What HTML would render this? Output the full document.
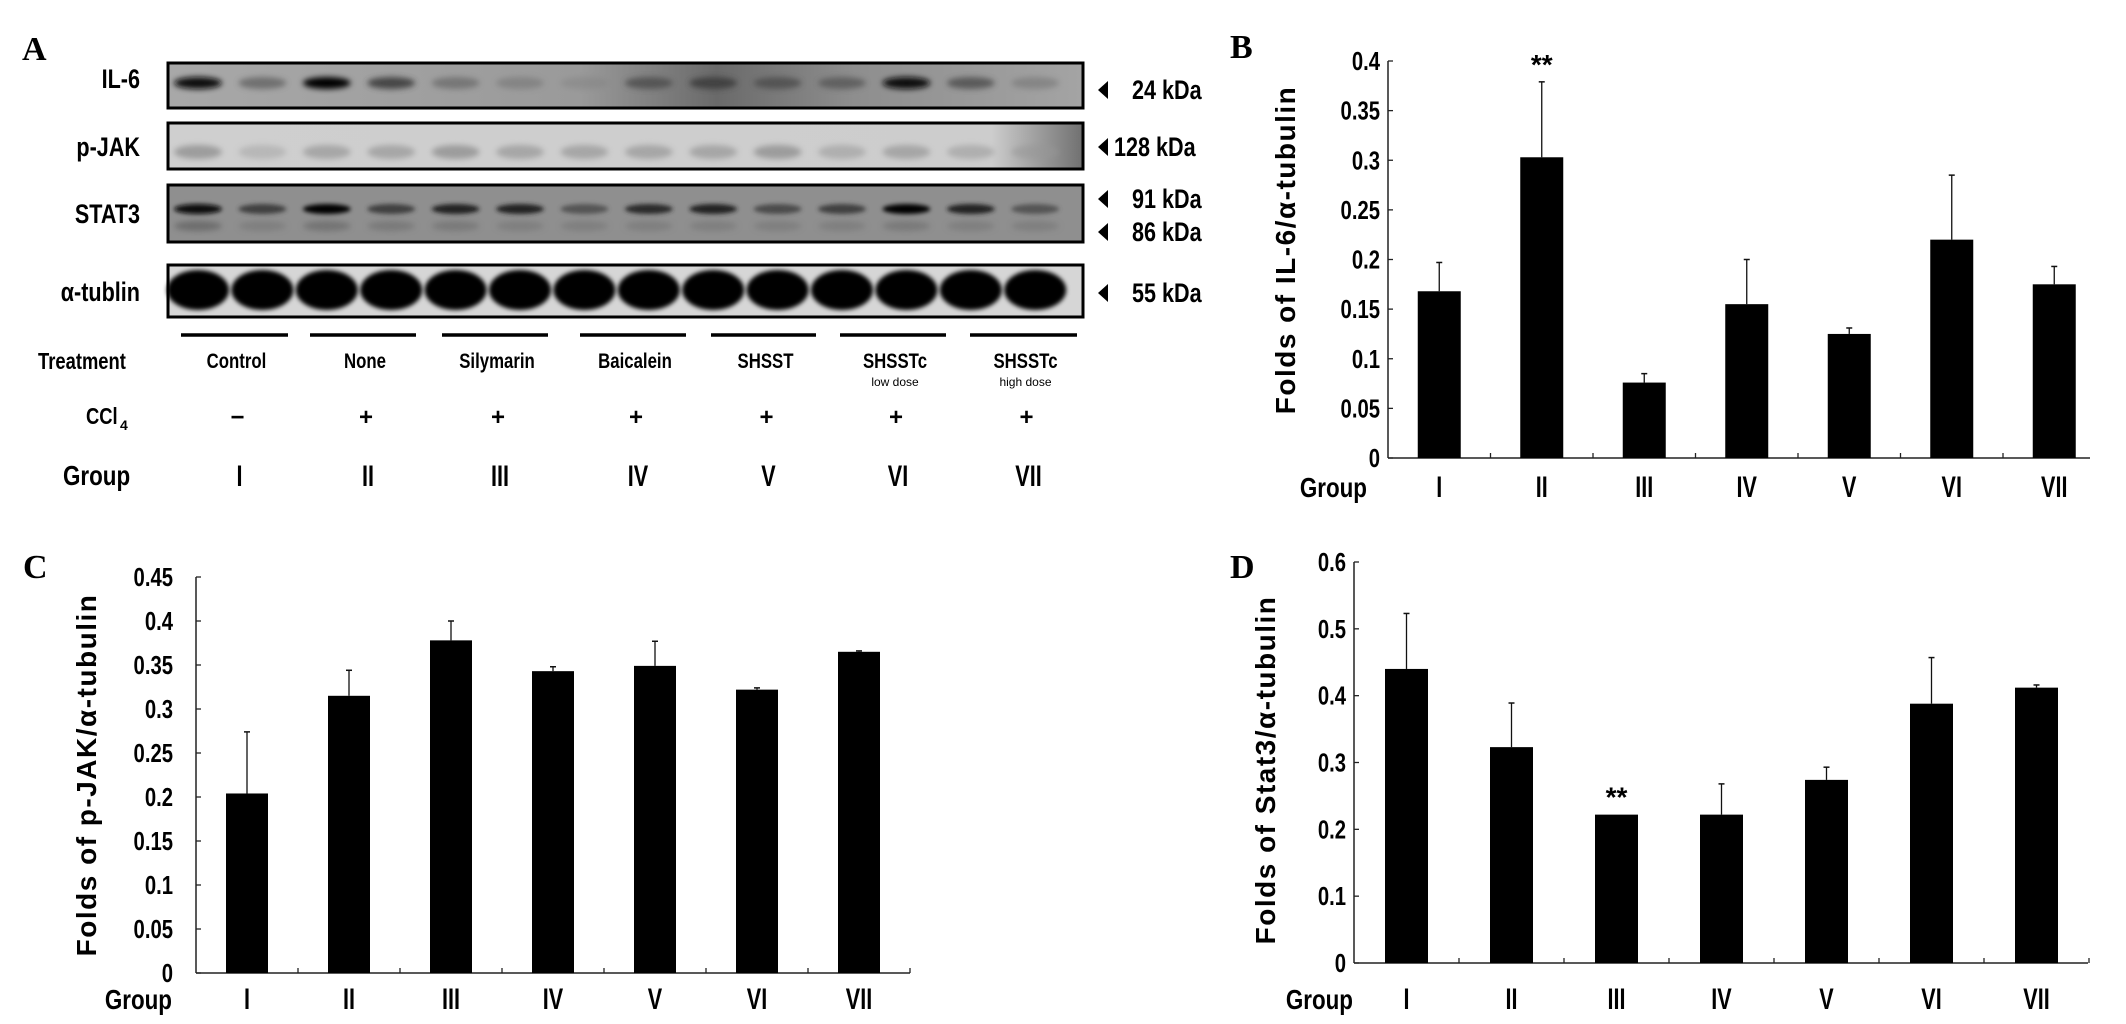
<!DOCTYPE html>
<html><head><meta charset="utf-8"><style>
html,body{margin:0;padding:0;background:#fff;}
svg{display:block;}
text{font-family:"Liberation Sans",sans-serif;font-weight:bold;fill:#000;}
.serif{font-family:"Liberation Serif",serif;}
</style></head><body>
<svg id="fig" width="2126" height="1024" viewBox="0 0 2126 1024" xmlns="http://www.w3.org/2000/svg">
<defs>
<filter id="blur3" x="-50%" y="-50%" width="200%" height="200%"><feGaussianBlur stdDeviation="3"/></filter>
<filter id="blur2" x="-50%" y="-50%" width="200%" height="200%"><feGaussianBlur stdDeviation="2"/></filter>
<linearGradient id="il6bg" x1="0" x2="1" y1="0" y2="0">
<stop offset="0" stop-color="#a8a8a8"/><stop offset="0.45" stop-color="#9a9a9a"/><stop offset="0.6" stop-color="#6a6a6a"/><stop offset="0.75" stop-color="#8e8e8e"/><stop offset="1" stop-color="#a4a4a4"/></linearGradient>
<linearGradient id="jakbg" x1="0" x2="1" y1="0" y2="0">
<stop offset="0" stop-color="#cfcfcf"/><stop offset="0.9" stop-color="#cdcdcd"/><stop offset="1" stop-color="#707070"/></linearGradient>
</defs>
<g id="panel-a"></g>
<g id="panel-b"></g>
<g id="panel-c"></g>
<g id="panel-d"></g>
</svg>
<script>
// ---- Chart data ----
const groupLabels = ["I","II","III","IV","V","VI","VII"];
const bValues = [0.168,0.303,0.076,0.155,0.125,0.220,0.175];
const bErrors = [0.029,0.076,0.009,0.045,0.006,0.065,0.018];
const bTicks = [0,0.05,0.1,0.15,0.2,0.25,0.3,0.35,0.4];
const bTickLabels = ["0","0.05","0.1","0.15","0.2","0.25","0.3","0.35","0.4"];
const bStars = [1];
const cValues = [0.204,0.315,0.378,0.343,0.349,0.322,0.365];
const cErrors = [0.070,0.029,0.022,0.005,0.028,0.002,0.001];
const cTicks = [0,0.05,0.1,0.15,0.2,0.25,0.3,0.35,0.4,0.45];
const cTickLabels = ["0","0.05","0.1","0.15","0.2","0.25","0.3","0.35","0.4","0.45"];
const cStars = [];
const dValues = [0.440,0.323,0.222,0.222,0.274,0.388,0.412];
const dErrors = [0.083,0.066,0,0.046,0.019,0.069,0.004];
const dTicks = [0,0.1,0.2,0.3,0.4,0.5,0.6];
const dTickLabels = ["0","0.1","0.2","0.3","0.4","0.5","0.6"];
const dStars = [2];
// ---- Blot data (relative band intensity per lane) ----
const il6Bands = [0.9,0.4,1.0,0.6,0.35,0.25,0.15,0.5,0.6,0.5,0.45,0.9,0.5,0.25];
const jakBands = [0.35,0.2,0.3,0.3,0.35,0.3,0.3,0.3,0.3,0.35,0.25,0.3,0.25,0.25];
const stat3Upper = [0.95,0.6,1.0,0.6,0.75,0.75,0.5,0.7,0.75,0.55,0.6,1.0,0.75,0.5];
const stat3Lower = [0.35,0.2,0.3,0.25,0.25,0.2,0.2,0.2,0.2,0.2,0.2,0.25,0.2,0.2];
const tubulinBands = [1,1,1,1,1,1,1,1,1,1,1,1,1,1];
const treatments = ["Control","None","Silymarin","Baicalein","SHSST","SHSSTc","SHSSTc"];
const treatmentSub = ["","","","","","low dose","high dose"];
const cclSigns = ["\u2212","+","+","+","+","+","+"];

const NS="http://www.w3.org/2000/svg";
function mk(parent,tag,attrs,txt){const e=document.createElementNS(NS,tag);for(const k in attrs)e.setAttribute(k,attrs[k]);if(txt!==undefined)e.textContent=txt;parent.appendChild(e);return e;}
// condensed text: placed via transform
function ctext(parent,x,y,size,anchor,str,sx){
  return mk(parent,'text',{x:0,y:0,'font-size':size,'text-anchor':anchor,transform:`translate(${x},${y}) scale(${sx||0.8},1)`},str);
}

function drawChart(g,cfg,values,errors,ticks,tickLabels,stars,letter){
  const yScale=v=>cfg.y0-(v/cfg.yMax)*(cfg.y0-cfg.yTop);
  const xCenter=i=>cfg.x0+cfg.band*(i+0.5);
  let t=mk(g,'text',{x:cfg.letterX,y:cfg.letterY,'font-size':34,class:'serif'},letter);
  
  
  let ax=mk(g,'line',{x1:cfg.x0,y1:cfg.y0,x2:cfg.x0,y2:cfg.yTop,stroke:'#222','stroke-width':1.5});
  
  
  let bx=mk(g,'line',{x1:cfg.x0,y1:cfg.y0,x2:cfg.axisEnd,y2:cfg.y0,stroke:'#222','stroke-width':1.5});
  
  
  ticks.forEach((v,i)=>{
    const y=yScale(v);
    let tk=mk(g,'line',{x1:cfg.x0,y1:y,x2:cfg.x0+5,y2:y,stroke:'#222','stroke-width':1.3});
    
    
    let tl=ctext(g,cfg.labelRight,y+9,26,'end',tickLabels[i],0.78);
    
    
  });
  for(let i=1;i<=values.length;i++){
    const x=cfg.x0+cfg.band*i;
    if(x>cfg.axisEnd+1) continue;
    let tk=mk(g,'line',{x1:x,y1:cfg.y0,x2:x,y2:cfg.y0-5,stroke:'#222','stroke-width':1.3});
    
    
  }
  values.forEach((v,i)=>{
    const cx=xCenter(i), top=yScale(v), et=yScale(v+errors[i]);
    if(errors[i]>0){
      let e1=mk(g,'line',{x1:cx,y1:top,x2:cx,y2:et,stroke:'#111','stroke-width':1.3});
      
      
      let e2=mk(g,'line',{x1:cx-3,y1:et,x2:cx+3,y2:et,stroke:'#111','stroke-width':1.5});
      
      
    }
    let r=mk(g,'rect',{x:cx-cfg.barW/2,y:top,width:cfg.barW,height:cfg.y0-top,fill:'#000'});
    
    
    let gl=ctext(g,cx,cfg.groupY,30,'middle',groupLabels[i],0.72);
    
    
    if(stars.indexOf(i)>=0){
      let s=mk(g,'text',{x:cx,y:et-8,'font-size':28,'text-anchor':'middle'},'**');
      
      
    }
  });
  let gw=ctext(g,cfg.groupRight,cfg.groupY,28,'end','Group',0.8);
  
  
  let tt=mk(g,'text',{x:0,y:0,'font-size':28,'text-anchor':'middle','letter-spacing':'1.5',transform:`translate(${cfg.titleX},${cfg.titleY}) rotate(-90)`},cfg.title);
  
  
}

drawChart(document.getElementById('panel-b'),{x0:1388,y0:458,yTop:61,yMax:0.4,band:102.5,barW:43,axisEnd:2090,labelRight:1380,titleX:1295,titleY:250,groupY:497,groupRight:1367,letterX:1230,letterY:58,title:'Folds of IL-6/\u03b1-tubulin'},bValues,bErrors,bTicks,bTickLabels,bStars,'B');
drawChart(document.getElementById('panel-c'),{x0:196,y0:973,yTop:577,yMax:0.45,band:102,barW:42,axisEnd:910,labelRight:173,titleX:96,titleY:775,groupY:1009,groupRight:172,letterX:23,letterY:578,title:'Folds of p-JAK/\u03b1-tubulin'},cValues,cErrors,cTicks,cTickLabels,cStars,'C');
drawChart(document.getElementById('panel-d'),{x0:1354,y0:963,yTop:562,yMax:0.6,band:105,barW:43,axisEnd:2088,labelRight:1346,titleX:1275,titleY:770,groupY:1009,groupRight:1353,letterX:1230,letterY:578,title:'Folds of Stat3/\u03b1-tubulin'},dValues,dErrors,dTicks,dTickLabels,dStars,'D');

// ---- Panel A: western blot ----
(function(){
  const g=document.getElementById('panel-a');
  const laneX=i=>198+i*64.4;
  let t=mk(g,'text',{x:22,y:60,'font-size':34,class:'serif'},'A');
  
  
  const strips=[
    {name:'il6',label:'IL-6',y:63,h:45,fill:'url(#il6bg)',ly:88},
    {name:'pjak',label:'p-JAK',y:123,h:46,fill:'url(#jakbg)',ly:156},
    {name:'stat3',label:'STAT3',y:185,h:57,fill:'#8f8f8f',ly:223},
    {name:'tubulin',label:'\u03b1-tublin',y:265,h:52,fill:'#d6d6d6',ly:301}
  ];
  strips.forEach(s=>{
    let r=mk(g,'rect',{x:168,y:s.y,width:915,height:s.h,fill:s.fill,stroke:'#000','stroke-width':3});
    
    
    let l=ctext(g,140,s.ly,27,'end',s.label,0.8);
    
    
  });
  function bands(arr,y,rx,ry,filt,base){
    arr.forEach((v,i)=>{
      const c=Math.round(base*(1-v));
      let e=mk(g,'ellipse',{cx:laneX(i),cy:y,rx:rx,ry:ry,fill:`rgb(${c},${c},${c})`,opacity:Math.min(1,0.3+v),filter:filt});
      
      
    });
  }
  bands(il6Bands,83,24,6,'url(#blur3)',150);
  bands(jakBands,152,24,7,'url(#blur3)',200);
  bands(stat3Upper,209,24,5,'url(#blur2)',140);
  bands(stat3Lower,226,24,5,'url(#blur3)',140);
  tubulinBands.forEach((v,i)=>{
    let e=mk(g,'ellipse',{cx:laneX(i),cy:290,rx:31,ry:20*v,fill:'#000',filter:'url(#blur2)'});
    
    
  });
  const kda=[['24 kDa',90,1132],['128 kDa',147,1114],['91 kDa',199,1132],['86 kDa',232,1132],['55 kDa',293,1132]];
  kda.forEach(k=>{
    let a=mk(g,'polygon',{points:`1108,${k[1]-9} 1108,${k[1]+9} 1098,${k[1]}`,fill:'#000'});
    
    
    let tx=ctext(g,k[2],k[1]+9,27,'start',k[0],0.8);
    
    
  });
  const under=[[181,288],[310,416],[442,548],[580,686],[711,816],[840,946],[970,1077]];
  under.forEach((u,i)=>{
    let l=mk(g,'line',{x1:u[0],y1:335,x2:u[1],y2:335,stroke:'#000','stroke-width':3.5});
    
    
    const cx=(u[0]+u[1])/2+2;
    let tr=ctext(g,cx,368,21,'middle',treatments[i],0.8);
    
    
    if(treatmentSub[i]){
      let ts=mk(g,'text',{x:cx,y:386,'font-size':12,'text-anchor':'middle',style:'font-weight:normal'},treatmentSub[i]);
      
      
    }
    let cs=mk(g,'text',{x:cx+1,y:425,'font-size':24,'text-anchor':'middle'},cclSigns[i]);
    
    
    let gr=ctext(g,cx+3,486,30,'middle',groupLabels[i],0.72);
    
    
  });
  let r1=ctext(g,38,369,23,'start','Treatment',0.8);
  
  
  let r2=ctext(g,86,424,23,'start','CCl',0.8);
  
  
  let r2s=mk(g,'text',{x:120,y:430,'font-size':14},'4');
  
  
  let r3=ctext(g,63,485,28,'start','Group',0.8);
  
  
})();
</script>
</body></html>
